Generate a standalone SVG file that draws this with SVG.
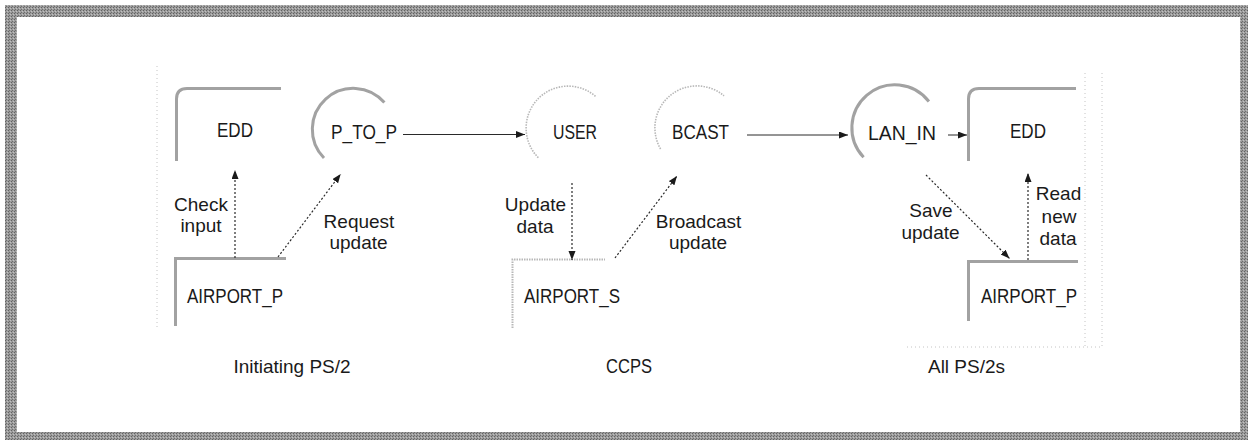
<svg xmlns="http://www.w3.org/2000/svg" width="1248" height="440" viewBox="0 0 1248 440">
  <defs>
    <style>
      .txt { font-family: "Liberation Sans", Arial, sans-serif; fill: #1a1a1a; text-anchor: middle; }
      .name { font-size: 20px; }
      .lbl { font-size: 19px; }
      .store { fill: none; stroke: #a2a2a2; stroke-width: 3; stroke-linecap: butt; }
      .store-lt { fill: none; stroke: #b8b8b8; stroke-width: 2; stroke-dasharray: 1.5 1; }
      .proc { fill: none; stroke: #a2a2a2; stroke-width: 3; }
      .proc-lt { fill: none; stroke: #b8b8b8; stroke-width: 1.6; stroke-dasharray: 1.5 1.2; }
      .flow { fill: none; stroke: #2a2a2a; stroke-width: 1; }
      .dflow { fill: none; stroke: #2a2a2a; stroke-width: 1.2; stroke-dasharray: 2 2; }
      .faint { fill: none; stroke: #c4c4c4; stroke-width: 1; stroke-dasharray: 1 3; }
    </style>
    <marker id="arrow" markerUnits="userSpaceOnUse" markerWidth="10" markerHeight="8" refX="9" refY="3.5" orient="auto">
      <path d="M0,0 L9,3.5 L0,7 Z" fill="#1a1a1a"/>
    </marker>
    <pattern id="grain" width="3" height="3" patternUnits="userSpaceOnUse">
      <rect width="3" height="3" fill="#9c9c9c"/>
      <rect x="0" y="0" width="1" height="1" fill="#6e6e6e"/>
      <rect x="2" y="1" width="1" height="1" fill="#626262"/>
      <rect x="1" y="2" width="1" height="1" fill="#c0c0c0"/>
    </pattern>
  </defs>

  <rect width="1248" height="440" fill="#ffffff"/>

  <!-- outer frame -->
  <path id="frame" fill="url(#grain)" fill-rule="evenodd" d="M5,5 H1248 V440 H5 Z M17,17 V432 H1240 V17 Z"/>

  <!-- faint group outlines -->
  <g id="group-outlines">
    <path class="faint" d="M157,66 V330"/>
    <path class="faint" d="M1085,73 V347"/>
    <path class="faint" d="M1102,73 V347 H905"/>
  </g>

  <!-- Initiating PS/2 -->
  <g id="edd-left">
    <path class="store" d="M176.5,161 V99 Q176.5,88.5 187,88.5 H281"/>
    <text class="txt name" x="235" y="137" textLength="36" lengthAdjust="spacingAndGlyphs">EDD</text>
  </g>
  <g id="p-to-p">
    <path class="proc" d="M324,158 A41,41 0 1 1 384.4,102.6"/>
    <text class="txt name" x="364" y="139" textLength="66" lengthAdjust="spacingAndGlyphs">P_TO_P</text>
  </g>
  <g id="airport-p-left">
    <path class="store" d="M175.5,326 V258.5 H286"/>
    <text class="txt name" x="235" y="303" textLength="96" lengthAdjust="spacingAndGlyphs">AIRPORT_P</text>
  </g>

  <!-- CCPS -->
  <g id="user">
    <path class="proc-lt" d="M538.3,157.7 A42,42 0 0 1 596.1,96.8"/>
    <text class="txt name" x="575" y="139" textLength="44" lengthAdjust="spacingAndGlyphs">USER</text>
  </g>
  <g id="bcast">
    <path class="proc-lt" d="M660.6,149 A42,42 0 0 1 724,95.8"/>
    <text class="txt name" x="700.5" y="139" textLength="57" lengthAdjust="spacingAndGlyphs">BCAST</text>
  </g>
  <g id="airport-s">
    <path class="store-lt" d="M512.5,328 V259.5 H605"/>
    <text class="txt name" x="572" y="303" textLength="96" lengthAdjust="spacingAndGlyphs">AIRPORT_S</text>
  </g>

  <!-- All PS/2s -->
  <g id="lan-in">
    <path class="proc" d="M863.6,157.3 A43,43 0 1 1 928.9,101.5"/>
    <text class="txt name" x="902" y="140" textLength="68" lengthAdjust="spacingAndGlyphs">LAN_IN</text>
  </g>
  <g id="edd-right">
    <path class="store" d="M968.5,161 V99 Q968.5,88.5 979,88.5 H1076"/>
    <text class="txt name" x="1028" y="138" textLength="36" lengthAdjust="spacingAndGlyphs">EDD</text>
  </g>
  <g id="airport-p-right">
    <path class="store" d="M968.5,321 V261.5 H1078"/>
    <text class="txt name" x="1029" y="303" textLength="96" lengthAdjust="spacingAndGlyphs">AIRPORT_P</text>
  </g>

  <!-- connectors -->
  <g id="connectors">
    <path class="flow" d="M403,134.5 H525" marker-end="url(#arrow)"/>
    <path class="flow" d="M747,135 H848" marker-end="url(#arrow)"/>
    <path class="flow" d="M948,135 H967" marker-end="url(#arrow)"/>

    <path class="dflow" d="M235,258 V170" marker-end="url(#arrow)"/>
    <path class="dflow" d="M278,257 L340.7,174" marker-end="url(#arrow)"/>
    <path class="dflow" d="M572,183 V260" marker-end="url(#arrow)"/>
    <path class="dflow" d="M615,258 L677,176" marker-end="url(#arrow)"/>
    <path class="dflow" d="M926,175 L1009.5,258.5" marker-end="url(#arrow)"/>
    <path class="dflow" d="M1028,260 V173" marker-end="url(#arrow)"/>

    <text class="txt lbl" x="201" y="211">Check</text>
    <text class="txt lbl" x="201" y="232">input</text>
    <text class="txt lbl" x="359" y="228">Request</text>
    <text class="txt lbl" x="358.5" y="249">update</text>
    <text class="txt lbl" x="535.5" y="211">Update</text>
    <text class="txt lbl" x="535" y="233">data</text>
    <text class="txt lbl" x="698.5" y="228">Broadcast</text>
    <text class="txt lbl" x="698" y="249">update</text>
    <text class="txt lbl" x="931" y="217">Save</text>
    <text class="txt lbl" x="930.5" y="239">update</text>
    <text class="txt lbl" x="1058.5" y="200">Read</text>
    <text class="txt lbl" x="1059" y="223">new</text>
    <text class="txt lbl" x="1058" y="245">data</text>
  </g>

  <!-- machine captions -->
  <g id="captions">
    <text class="txt lbl" x="292" y="373">Initiating PS/2</text>
    <text class="txt name" x="629" y="373" textLength="46" lengthAdjust="spacingAndGlyphs">CCPS</text>
    <text class="txt lbl" x="966.5" y="373">All PS/2s</text>
  </g>
</svg>
